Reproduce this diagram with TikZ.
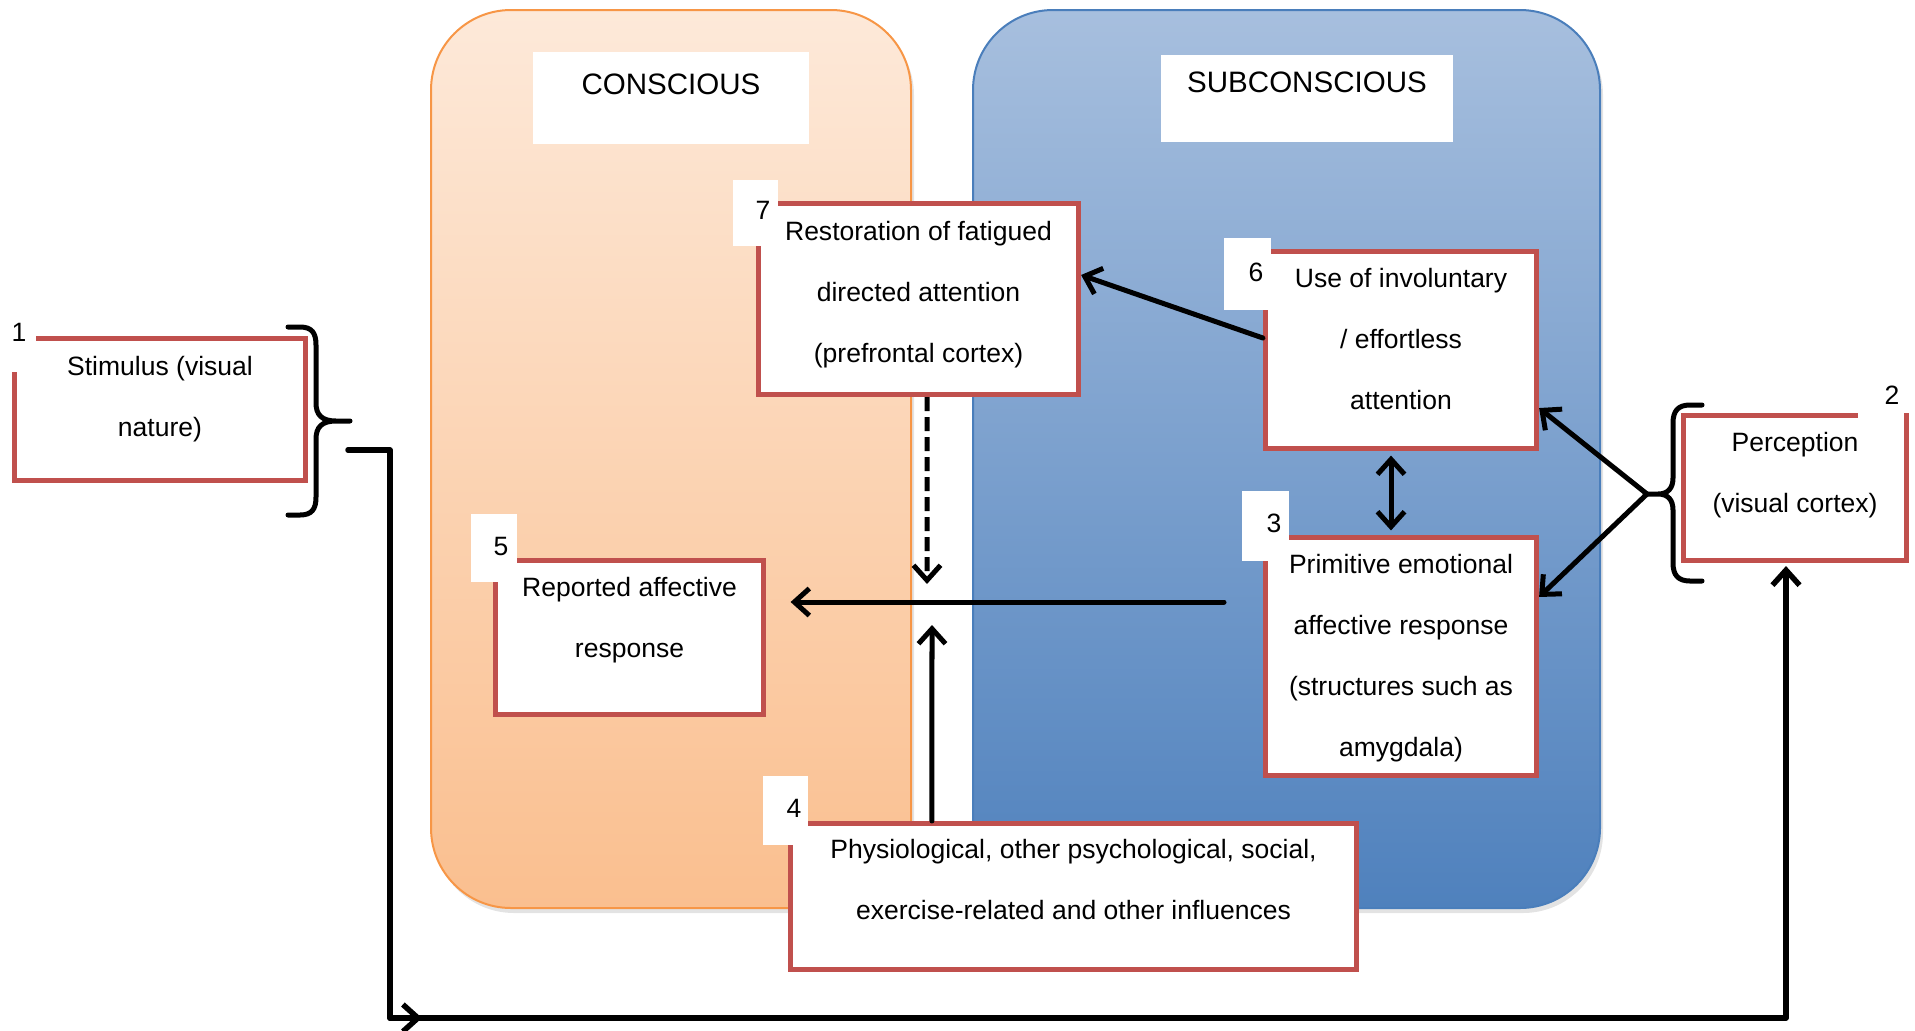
\documentclass[tikz,border=0pt]{standalone}
\usepackage{fontspec}
\setmainfont{Liberation Sans}
\usetikzlibrary{arrows.meta,shadows}
\definecolor{boxred}{RGB}{192,80,77}
\definecolor{orTop}{RGB}{253,233,217}
\definecolor{orBot}{RGB}{250,191,143}
\definecolor{orEdge}{RGB}{247,150,70}
\definecolor{blTop}{RGB}{167,191,222}
\definecolor{blBot}{RGB}{79,129,189}
\definecolor{blEdge}{RGB}{74,126,187}
\newcommand{\myBody}{\fontsize{7.54pt}{17.37pt}\selectfont}
\newcommand{\myTitle}{\fontsize{8.4pt}{10pt}\selectfont}
\begin{document}
\begin{tikzpicture}[x=0.01cm,y=-0.01cm,
  >={Straight Barb[length=0.15cm,width=0.27cm]},
  panel/.style={rounded corners=0.8cm, line width=0.02cm,
    drop shadow={opacity=0.22,shadow xshift=0.03cm,shadow yshift=-0.05cm}},
  redbox/.style={draw=boxred, line width=0.05cm, fill=white, inner sep=0pt},
  txt/.style={font=\myBody, align=center, inner sep=0pt},
  num/.style={font=\myBody, inner sep=0pt},
  titlebox/.style={fill=white, inner sep=0pt},
  ttl/.style={font=\myTitle, inner sep=0pt},
  arr/.style={draw=black, line width=0.05cm, line cap=round, line join=round, ->},
  brc/.style={draw=black, line width=0.05cm, line cap=round, line join=round}
]
\useasboundingbox (0,0) rectangle (1915,1030);

% panels
\path[panel, draw=orEdge, top color=orTop, bottom color=orBot] (431,10) rectangle (911,908);
\path[panel, draw=blEdge, top color=blTop, bottom color=blBot] (973,10) rectangle (1600,908);

% titles
\node[titlebox, minimum width=2.76cm, minimum height=0.92cm] (tc) at (671,98) {};
\node[ttl] (tct) at ([yshift=0.14cm]tc.center) {CONSCIOUS};
\node[titlebox, minimum width=2.92cm, minimum height=0.87cm] (ts) at (1307,98.5) {};
\node[ttl] (tst) at ([yshift=0.165cm]ts.center) {SUBCONSCIOUS};

% boxes
\node[redbox, minimum width=2.91cm, minimum height=1.42cm] (b1) at (160,409.5) {};
\node[redbox, minimum width=2.23cm, minimum height=1.45cm] (b2) at (1795,488) {};
\node[redbox, minimum width=2.71cm, minimum height=2.38cm] (b3) at (1401,656.5) {};
\node[redbox, minimum width=5.66cm, minimum height=1.46cm] (b4) at (1073.5,896.5) {};
\node[redbox, minimum width=2.68cm, minimum height=1.54cm] (b5) at (629.5,637.5) {};
\node[redbox, minimum width=2.71cm, minimum height=1.97cm] (b6) at (1401,350) {};
\node[redbox, minimum width=3.20cm, minimum height=1.91cm] (b7) at (918.5,299) {};

\node[txt] (t1) at ([yshift=0.155cm]b1.center) {\strut Stimulus (visual\\\strut nature)};
\node[txt] (t2) at ([yshift=0.18cm]b2.center) {\strut Perception\\\strut (visual cortex)};
\node[txt] (t3) at ([yshift=0.035cm]b3.center) {\strut Primitive emotional\\\strut affective response\\\strut (structures such as\\\strut amygdala)};
\node[txt] (t4) at ([yshift=0.195cm]b4.center) {\strut Physiological, other psychological, social,\\\strut exercise-related and other influences};
\node[txt] (t5) at ([yshift=0.23cm]b5.center) {\strut Reported affective\\\strut response};
\node[txt] (t6) at ([yshift=0.135cm]b6.center) {\strut Use of involuntary\\\strut / effortless\\\strut attention};
\node[txt] (t7) at ([yshift=0.10cm]b7.center) {\strut Restoration of fatigued\\\strut directed attention\\\strut (prefrontal cortex)};

% number tabs
\fill[white] (0,300) rectangle (36,372);
\node[num] (n1) at (19,332) {1};
\fill[white] (1858,372) rectangle (1904,418);
\node[num] (n2) at (1892,395) {2};
\fill[white] (1242,491) rectangle (1289,561);
\node[num] (n3) at (1274,523) {3};
\fill[white] (763,776) rectangle (808,845);
\node[num] (n4) at (794,808) {4};
\fill[white] (471,514) rectangle (517,582);
\node[num] (n5) at (501,546) {5};
\fill[white] (1224,238) rectangle (1271,310);
\node[num] (n6) at (1256,272) {6};
\fill[white] (733,180) rectangle (778,246);
\node[num] (n7) at (763,210) {7};

% braces
\draw[brc] (288,327) -- (300,327) .. controls (312,327) and (316,333) .. (316,345)
  -- (316,403) .. controls (316,415) and (322,421) .. (336,421) -- (350,421)
  -- (336,421) .. controls (322,421) and (316,427) .. (316,439)
  -- (316,497) .. controls (316,509) and (312,515) .. (300,515) -- (288,515);
\draw[brc] (1702,405) -- (1690,405) .. controls (1678,405) and (1673,411) .. (1673,423)
  -- (1673,478) .. controls (1673,488) and (1668,494) .. (1658,494) -- (1645,494)
  -- (1658,494) .. controls (1668,494) and (1673,500) .. (1673,510)
  -- (1673,563) .. controls (1673,575) and (1678,581) .. (1690,581) -- (1702,581);

% connectors
\coordinate (p1) at (348,450);
\coordinate (c1) at (390,1018);
\coordinate (p2) at (1647,494);
\coordinate (h3) at (1224,602);
\coordinate (d7) at (927,584);
\coordinate (u4) at (932,625);

\draw[arr, line width=0.055cm, shorten >=0.03cm] (p1) -| (c1) -| ([xshift=-0.09cm]b2.south);
\draw[arr, line width=0.055cm] (c1) -- ([xshift=0.32cm]c1);
\draw[arr] (p2) -- ([yshift=-0.58cm]b6.east);
\draw[arr] (p2) -- ([yshift=0.595cm]b3.east);
\draw[arr, <->, shorten <=0.045cm, shorten >=0.045cm] ([xshift=-0.1cm]b6.south) -- ([xshift=-0.1cm]b3.north);
\draw[arr] ([yshift=0.12cm]b6.west) -- ([yshift=0.24cm]b7.east);
\draw[arr, shorten >=0.245cm] (h3) -- (h3 -| b5.east);
\draw[arr, line cap=butt, dash pattern=on 0.14cm off 0.06cm] ([xshift=0.085cm]b7.south) -- (d7);
\draw[arr] ([xshift=-1.415cm]b4.north) -- (u4);
\end{tikzpicture}
\end{document}
